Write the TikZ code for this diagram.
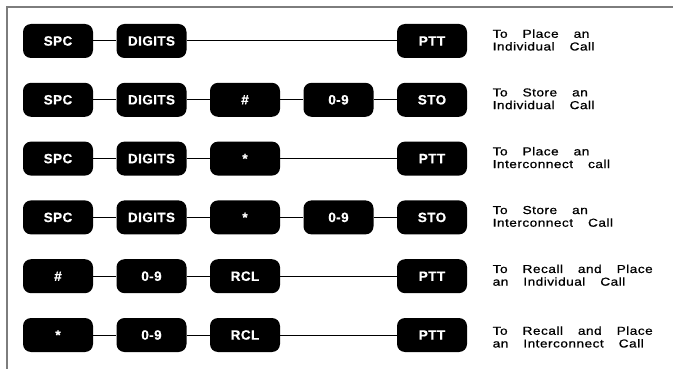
\documentclass[tikz,border=0pt]{standalone}
\usepackage{fontspec}
\newfontfamily\keyfont[LetterSpace=3,FakeBold=0.6]{Liberation Sans Bold}
\newfontfamily\lblfont[FakeStretch=1.19,LetterSpace=4,FakeBold=0.7]{Liberation Sans}
\newcommand\lblsetup{\lblfont\fontsize{11.5}{12.7}\selectfont\spaceskip=15pt\relax}
\definecolor{framegray}{RGB}{125,125,125}
\tikzset{
  key/.style={fill=black, rounded corners=8pt, minimum width=70pt, minimum height=34pt,
    inner sep=0pt, text=white, font=\keyfont\fontsize{13.5}{13.5}\selectfont},
  wire/.style={line width=1pt, black},
  lbl/.style={anchor=west, inner sep=0pt, align=left, text=black, font=\lblsetup},
  framelne/.style={line width=1.6pt, framegray}
}
\begin{document}
\begin{tikzpicture}[x=1pt, y=-1pt]
\useasboundingbox (0,0) rectangle (673,369);
\coordinate (ftop) at (673,7);
\coordinate (fcorner) at (7,7);
\coordinate (fbot) at (7,369);
\draw[framelne] (ftop) -- (fcorner) -- (fbot);

% row 1
\node[key] (a1) at (58,41) {SPC};
\node[key] (a2) at (151.5,41) {DIGITS};
\node[key] (a5) at (432,41) {PTT};
\draw[wire] (a1) -- (a2) -- (a5);
\node[lbl] (la) at (492.5,40) {To Place an\\Individual Call};

% row 2
\node[key] (b1) at (58,99.8) {SPC};
\node[key] (b2) at (151.5,99.8) {DIGITS};
\node[key] (b3) at (245,99.8) {\#};
\node[key] (b4) at (338.5,99.8) {0-9};
\node[key] (b5) at (432,99.8) {STO};
\draw[wire] (b1) -- (b2) -- (b3) -- (b4) -- (b5);
\node[lbl] (lb) at (492.5,98.8) {To Store an\\Individual Call};

% row 3
\node[key] (c1) at (58,158.6) {SPC};
\node[key] (c2) at (151.5,158.6) {DIGITS};
\node[key] (c3) at (245,158.6) {*};
\node[key] (c5) at (432,158.6) {PTT};
\draw[wire] (c1) -- (c2) -- (c3) -- (c5);
\node[lbl] (lc) at (492.5,157.6) {To Place an\\Interconnect call};

% row 4
\node[key] (d1) at (58,217.4) {SPC};
\node[key] (d2) at (151.5,217.4) {DIGITS};
\node[key] (d3) at (245,217.4) {*};
\node[key] (d4) at (338.5,217.4) {0-9};
\node[key] (d5) at (432,217.4) {STO};
\draw[wire] (d1) -- (d2) -- (d3) -- (d4) -- (d5);
\node[lbl] (ld) at (492.5,216.4) {To Store an\\Interconnect Call};

% row 5
\node[key] (e1) at (58,276.2) {\#};
\node[key] (e2) at (151.5,276.2) {0-9};
\node[key] (e3) at (245,276.2) {RCL};
\node[key] (e5) at (432,276.2) {PTT};
\draw[wire] (e1) -- (e2) -- (e3) -- (e5);
\node[lbl] (le) at (492.5,275.2) {To Recall and Place\\an Individual Call};

% row 6
\node[key] (f1) at (58,335) {*};
\node[key] (f2) at (151.5,335) {0-9};
\node[key] (f3) at (245,335) {RCL};
\node[key] (f5) at (432,335) {PTT};
\draw[wire] (f1) -- (f2) -- (f3) -- (f5);
\node[lbl] (lf) at (492.5,337) {To Recall and Place\\an Interconnect Call};
\end{tikzpicture}
\end{document}
